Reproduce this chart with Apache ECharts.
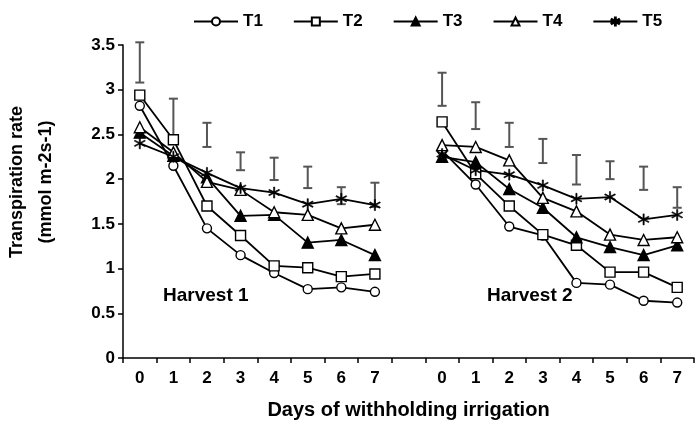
<!DOCTYPE html>
<html>
<head>
<meta charset="utf-8">
<script src="https://cdn.jsdelivr.net/npm/echarts@6/dist/echarts.min.js"></script>
<style>
  html, body { margin: 0; padding: 0; background: #fff; }
  #chart { width: 697px; height: 425px; }
</style>
</head>
<body>
<div id="chart"></div>
<script>
// days of withholding irrigation, same for both harvests
const days = [0, 1, 2, 3, 4, 5, 6, 7]
const yTicks = [0, 0.5, 1, 1.5, 2, 2.5, 3, 3.5]

// Harvest 1
const t1H1 = [2.82, 2.15, 1.45, 1.15, 0.95, 0.77, 0.79, 0.74]
const t2H1 = [2.94, 2.44, 1.70, 1.37, 1.03, 1.01, 0.91, 0.94]
const t3H1 = [2.52, 2.26, 2.02, 1.59, 1.60, 1.29, 1.32, 1.15]
const t4H1 = [2.58, 2.30, 1.97, 1.88, 1.63, 1.60, 1.45, 1.49]
const t5H1 = [2.40, 2.25, 2.07, 1.90, 1.85, 1.72, 1.78, 1.71]
const errLowH1 = [3.08, 2.44, 2.36, 2.10, 1.99, 1.90, 1.72, 1.69]
const errHighH1 = [3.53, 2.90, 2.63, 2.30, 2.24, 2.14, 1.91, 1.96]

// Harvest 2
const t1H2 = [2.32, 1.94, 1.47, 1.37, 0.84, 0.82, 0.64, 0.62]
const t2H2 = [2.64, 2.06, 1.70, 1.38, 1.26, 0.96, 0.96, 0.79]
const t3H2 = [2.25, 2.19, 1.89, 1.68, 1.35, 1.24, 1.15, 1.26]
const t4H2 = [2.38, 2.36, 2.21, 1.79, 1.64, 1.38, 1.32, 1.35]
const t5H2 = [2.28, 2.10, 2.05, 1.93, 1.78, 1.80, 1.55, 1.60]
const errLowH2 = [2.82, 2.56, 2.36, 2.18, 1.94, 2.00, 1.88, 1.68]
const errHighH2 = [3.19, 2.86, 2.63, 2.45, 2.27, 2.20, 2.14, 1.91]

const font = 'Liberation Sans, Arial, sans-serif'

// one category axis: harvest 1 days, an empty slot, harvest 2 days
const cats = days.map(d => 'a' + d).concat(['gap']).concat(days.map(d => 'b' + d))
const join = (a, b) => a.concat([null]).concat(b)

const errData = []
days.forEach((d, i) => {
    errData.push([i, errLowH1[i], errHighH1[i]])
    errData.push([i + days.length + 1, errLowH2[i], errHighH2[i]])
})

// asterisk made of three thin bars
const star = 'path://M-0.6,-6L0.6,-6L0.6,6L-0.6,6Z' +
    'M4.9,-3.5L5.5,-2.5L-4.9,3.5L-5.5,2.5Z' +
    'M-4.9,-3.5L-5.5,-2.5L4.9,3.5L5.5,2.5Z'

function lineSeries(name, data, symbol, size, fill, border) {
    return {
        name: name,
        type: 'line',
        data: data,
        symbol: symbol,
        symbolSize: size,
        showAllSymbol: true,
        connectNulls: false,
        z: 3,
        lineStyle: { color: '#000', width: 1.8 },
        itemStyle: { color: fill, borderColor: '#000', borderWidth: border }
    }
}

const myChart = echarts.init(document.getElementById('chart'))

const option = {
    backgroundColor: '#fff',
    animation: false,
    legend: {
        data: ['T1', 'T2', 'T3', 'T4', 'T5'],
        left: 188,
        top: 8,
        itemWidth: 44,
        itemHeight: 10,
        itemGap: 30,
        textStyle: { fontFamily: font, fontWeight: 'bold', fontSize: 17, color: '#000' }
    },
    grid: { left: 123, right: 3, top: 45, bottom: 67 },
    xAxis: {
        type: 'category',
        data: cats,
        boundaryGap: true,
        name: 'Days of withholding irrigation',
        nameLocation: 'middle',
        nameGap: 42,
        nameTextStyle: { fontFamily: font, fontWeight: 'bold', fontSize: 20, color: '#000' },
        axisLine: { lineStyle: { color: '#000', width: 1.5 } },
        axisTick: { show: true, length: 5, interval: 0, lineStyle: { color: '#000', width: 1.5 } },
        axisLabel: {
            interval: 0,
            margin: 12,
            fontFamily: font,
            fontWeight: 'bold',
            fontSize: 17,
            color: '#000',
            formatter: v => v === 'gap' ? '' : v.slice(1)
        },
        splitLine: { show: false }
    },
    yAxis: {
        type: 'value',
        min: yTicks[0],
        max: yTicks[yTicks.length - 1],
        interval: 0.5,
        axisLine: { show: true, lineStyle: { color: '#000', width: 1.5 } },
        axisTick: { show: true, length: 5, lineStyle: { color: '#000', width: 1.5 } },
        axisLabel: { margin: 8, fontFamily: font, fontWeight: 'bold', fontSize: 17, color: '#000' },
        splitLine: { show: false }
    },
    graphic: [
        {
            type: 'text',
            x: 32,
            y: 182,
            rotation: Math.PI / 2,
            style: {
                text: 'Transpiration rate\n(mmol m-2s-1)',
                fontFamily: font,
                fontWeight: 'bold',
                fontSize: 18,
                lineHeight: 29,
                fill: '#000',
                align: 'center',
                verticalAlign: 'middle'
            }
        },
        {
            type: 'text',
            left: 163,
            top: 286,
            style: { text: 'Harvest 1', fontFamily: font, fontWeight: 'bold', fontSize: 19, fill: '#000' }
        },
        {
            type: 'text',
            left: 487,
            top: 286,
            style: { text: 'Harvest 2', fontFamily: font, fontWeight: 'bold', fontSize: 19, fill: '#000' }
        }
    ],
    series: [
        lineSeries('T1', join(t1H1, t1H2), 'circle', 9, '#fff', 1.4),
        lineSeries('T2', join(t2H1, t2H2), 'rect', 10, '#fff', 1.4),
        lineSeries('T3', join(t3H1, t3H2), 'triangle', 11, '#000', 1.4),
        lineSeries('T4', join(t4H1, t4H2), 'triangle', 11, '#fff', 1.4),
        lineSeries('T5', join(t5H1, t5H2), star, 11, '#000', 0.6),
        {
            // LSD style bars above the curves
            name: 'err',
            type: 'custom',
            data: errData,
            encode: { x: 0, y: [1, 2] },
            z: 2,
            renderItem: function (params, api) {
                const x = api.value(0)
                const lo = api.coord([x, api.value(1)])
                const hi = api.coord([x, api.value(2)])
                const w = 4.5
                const st = { stroke: '#555', lineWidth: 2 }
                return {
                    type: 'group',
                    children: [
                        { type: 'line', shape: { x1: lo[0], y1: lo[1], x2: hi[0], y2: hi[1] }, style: st },
                        { type: 'line', shape: { x1: lo[0] - w, y1: lo[1], x2: lo[0] + w, y2: lo[1] }, style: st },
                        { type: 'line', shape: { x1: hi[0] - w, y1: hi[1], x2: hi[0] + w, y2: hi[1] }, style: st }
                    ]
                }
            }
        }
    ]
}

myChart.setOption(option)
</script>
</body>
</html>
